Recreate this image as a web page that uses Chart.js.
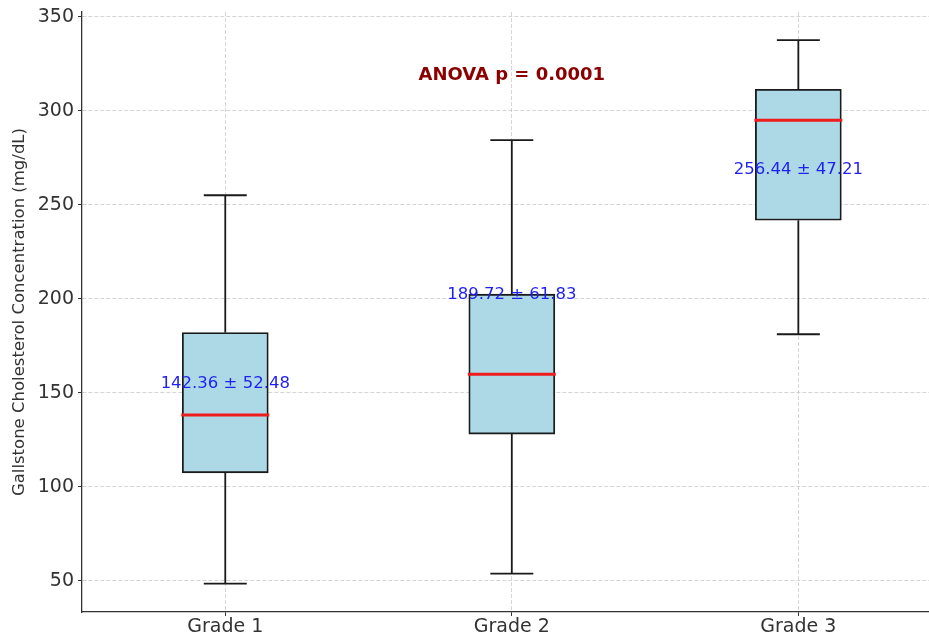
<!DOCTYPE html>
<html>
<head>
<meta charset="utf-8">
<script src="https://cdn.jsdelivr.net/npm/chart.js@4/dist/chart.umd.min.js"></script>
<style>
  html, body { margin: 0; padding: 0; background: #fff; }
  #wrap { width: 929px; height: 636px; }
</style>
</head>
<body>
<div id="wrap"><canvas id="boxChart"></canvas></div>
<script>
const categories = ["Grade 1", "Grade 2", "Grade 3"];
const whiskerLow = [48.6, 53.9, 181.2];
const q1 = [107.5, 128.1, 241.8];
const median = [138.2, 159.9, 295.0];
const q3 = [182.1, 202.5, 311.4];
const whiskerHigh = [255.1, 284.4, 337.6];
const means = [142.36, 189.72, 256.44];
const sds = [52.48, 61.83, 47.21];
const yTicks = [50, 100, 150, 200, 250, 300, 350];
const anovaText = "ANOVA p = 0.0001";

const boxData = categories.map((c, i) => ({ x: i + 1, y: [q1[i], q3[i]] }));

// whiskers, caps, medians and the text labels on top of the boxes
const boxExtras = {
  id: "boxExtras",
  afterDatasetsDraw(chart) {
    const ctx = chart.ctx;
    const xs = chart.scales.x;
    const ys = chart.scales.y;
    ctx.save();
    categories.forEach((c, i) => {
      const cx = xs.getPixelForValue(i + 1);
      const halfBox = cx - xs.getPixelForValue(i + 1 - 0.15);
      const halfCap = halfBox / 2;
      ctx.strokeStyle = "#1a1a1a";
      ctx.lineWidth = 1.8;
      ctx.beginPath();
      ctx.moveTo(cx, ys.getPixelForValue(q3[i]));
      ctx.lineTo(cx, ys.getPixelForValue(whiskerHigh[i]));
      ctx.moveTo(cx, ys.getPixelForValue(q1[i]));
      ctx.lineTo(cx, ys.getPixelForValue(whiskerLow[i]));
      ctx.moveTo(cx - halfCap, ys.getPixelForValue(whiskerHigh[i]));
      ctx.lineTo(cx + halfCap, ys.getPixelForValue(whiskerHigh[i]));
      ctx.moveTo(cx - halfCap, ys.getPixelForValue(whiskerLow[i]));
      ctx.lineTo(cx + halfCap, ys.getPixelForValue(whiskerLow[i]));
      ctx.stroke();

      ctx.strokeStyle = "#ee1c1c";
      ctx.lineWidth = 3;
      ctx.beginPath();
      ctx.moveTo(cx - halfBox - 1, ys.getPixelForValue(median[i]));
      ctx.lineTo(cx + halfBox + 1, ys.getPixelForValue(median[i]));
      ctx.stroke();

      ctx.fillStyle = "#1f1fee";
      ctx.font = "16.5px 'DejaVu Sans'";
      ctx.textAlign = "center";
      ctx.textBaseline = "alphabetic";
      ctx.fillText(means[i].toFixed(2) + " \u00b1 " + sds[i].toFixed(2), cx, ys.getPixelForValue(means[i] + 10));
    });
    ctx.fillStyle = "#8b0000";
    ctx.font = "bold 18px 'DejaVu Sans'";
    ctx.textAlign = "center";
    ctx.fillText(anovaText, xs.getPixelForValue(2), ys.getPixelForValue(316.3));
    ctx.restore();
  },
};

const gridStyle = {
  color: "rgba(190,190,190,0.65)",
  lineWidth: 1,
  tickColor: "#333",
  tickBorderDash: [],
  tickLength: 4,
  offset: false,
};

const borderStyle = { color: "#333", width: 1.3, dash: [4, 2] };

new Chart(document.getElementById("boxChart"), {
  type: "bar",
  data: {
    datasets: [
      {
        data: boxData,
        backgroundColor: "#add8e6",
        borderColor: "#1a1a1a",
        borderWidth: 1.8,
        borderSkipped: false,
        barThickness: 86,
      },
    ],
  },
  options: {
    responsive: true,
    maintainAspectRatio: false,
    animation: false,
    layout: { padding: { top: 0, right: 0, bottom: 0, left: 0 } },
    plugins: {
      legend: { display: false },
      tooltip: { enabled: false },
    },
    scales: {
      x: {
        type: "linear",
        min: 0.5,
        max: 3.456,
        offset: false,
        grid: gridStyle,
        border: borderStyle,
        afterBuildTicks: (scale) => {
          scale.ticks = categories.map((c, i) => ({ value: i + 1 }));
        },
        afterFit: (scale) => {
          scale.height = 24;
        },
        ticks: {
          color: "#333",
          font: { family: "DejaVu Sans", size: 19 },
          padding: 0,
          maxRotation: 0,
          callback: (v) => categories[v - 1] ?? "",
        },
      },
      y: {
        min: 33.5,
        max: 352.5,
        grid: gridStyle,
        border: borderStyle,
        afterBuildTicks: (scale) => {
          scale.ticks = yTicks.map((v) => ({ value: v }));
        },
        afterFit: (scale) => {
          scale.width = 82;
        },
        ticks: {
          color: "#333",
          font: { family: "DejaVu Sans", size: 19, lineHeight: 0.85 },
          padding: 4,
        },
        title: {
          display: true,
          text: "Gallstone Cholesterol Concentration (mg/dL)",
          color: "#333",
          font: { family: "DejaVu Sans", size: 16.5 },
          padding: { top: 10, bottom: 0 },
        },
      },
    },
  },
  plugins: [boxExtras],
});
</script>
</body>
</html>
